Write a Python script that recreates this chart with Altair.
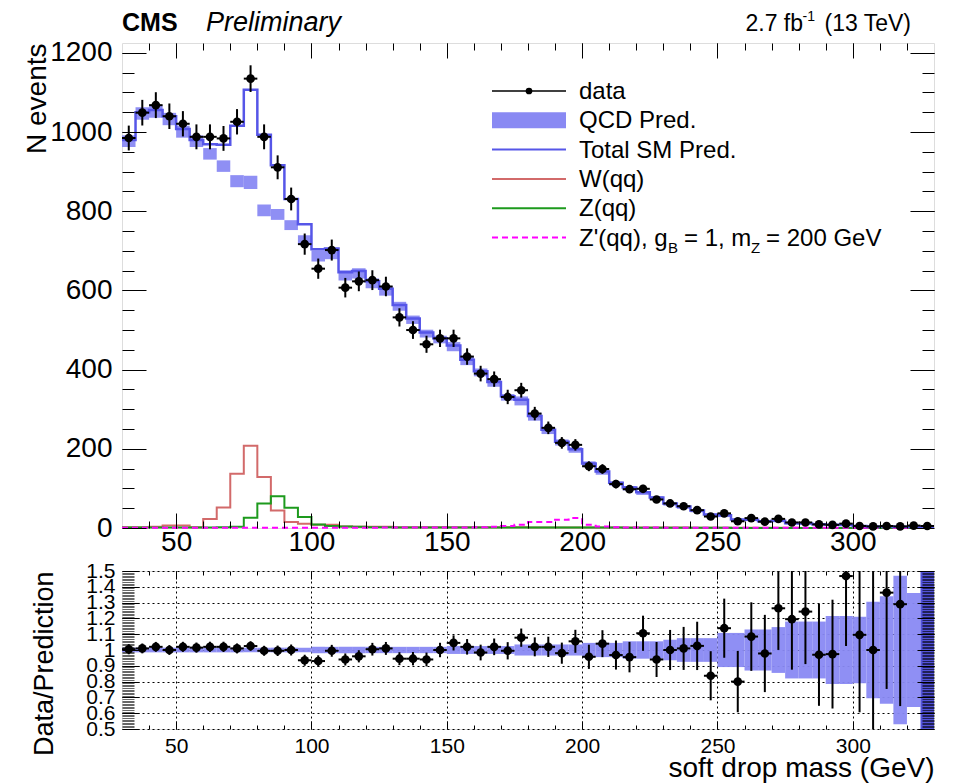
import math
import altair as alt
import pandas as pd

FONT = "Liberation Sans"

# ---------------- data ----------------
bin_low = list(range(30, 330, 5))  # 60 bins of 5 GeV

data_counts = [985, 1049, 1068, 1040, 1021, 988, 988, 984, 1026, 1135,
               988, 911, 831, 717, 655, 702, 607, 623, 626, 610,
               532, 500, 464, 479, 479, 433, 390, 376, 331, 348,
               289, 253, 215, 210, 156, 149, 111, 98, 99, 72,
               62, 55, 45, 29, 37, 17, 25, 16, 23, 14,
               14, 9, 8, 11, 5, 4, 5, 4, 6, 5]

total_sm = [980, 1050, 1056, 1040, 1008, 980, 969, 968, 1016, 1107,
            993, 916, 831, 767, 704, 706, 646, 649, 623, 604,
            563, 529, 494, 479, 461, 425, 396, 369, 333, 324,
            283, 248, 218, 199, 163, 143, 114, 102, 90, 77,
            62, 54, 44, 34, 32, 21.5, 21, 17, 18, 12,
            11.5, 9.5, 8.5, 7.5, 5, 4, 3.7, 3.2, 3, 2.5]

w_qq = [2, 2, 3, 6, 6, 2, 23, 52, 137, 208,
        129, 44, 15, 11, 8, 8, 4, 3, 3, 3,
        2, 2, 2, 2, 2, 2, 2, 2, 2, 2,
        1, 1, 1, 1, 1, 1, 1, 1, 1, 1,
        1, 1, 0.5, 0.5, 0.5, 0.5, 0.5, 0.5, 0.5, 0.5,
        0.3, 0.3, 0.3, 0.3, 0.3, 0.3, 0.3, 0.3, 0.3, 0.3]

z_qq = [1, 1, 1, 1, 1, 1, 1, 2, 3, 26,
        62, 80, 51, 28, 9, 5, 4, 3, 2, 2,
        1, 1, 1, 1, 1, 1, 1, 1, 1, 1,
        1, 1, 1, 1, 1, 1, 1, 0.5, 0.5, 0.5,
        0.5, 0.5, 0.5, 0.5, 0.5, 0.3, 0.3, 0.3, 0.3, 0.3,
        0.3, 0.3, 0.3, 0.3, 0.3, 0.2, 0.2, 0.2, 0.2, 0.2]

zprime_qq = [0.5, 0.5, 0.5, 0.5, 0.5, 0.5, 0.5, 0.5, 0.5, 0.5,
             0.5, 0.5, 0.5, 0.5, 0.5, 0.5, 0.5, 0.5, 0.5, 1,
             1, 1, 1, 1, 1.5, 1.5, 2, 3, 5, 8.5,
             15, 15, 21, 25, 8.5, 4, 2, 1, 1, 1,
             0.5, 0.5, 0.5, 0.5, 0.5, 0.5, 0.5, 0.5, 0.5, 0.5,
             0.5, 0.5, 0.5, 0.5, 0.5, 0.5, 0.5, 0.5, 0.5, 0.5]

qcd_rel_unc = [0.015] * 14 + [0.02] * 10 + [0.025] * 5 + [0.035] * 5 + \
              [0.045] * 3 + [0.055] * 3 + [0.065] + [0.075] * 3 + \
              [0.108, 0.108, 0.13, 0.13, 0.145, 0.18, 0.18, 0.18, 0.215, 0.215,
               0.21, 0.305, 0.34, 0.47, 0.36, 1.2]

ratio_vals = [1.005, 1.01, 1.02, 1.0, 1.02, 1.015, 1.02, 1.02, 1.01, 1.025,
              0.995, 0.995, 1.0, 0.935, 0.93, 0.995, 0.94, 0.96, 1.005, 1.01,
              0.945, 0.945, 0.94, 1.0, 1.045, 1.02, 0.984, 1.02, 0.995, 1.078,
              1.02, 1.02, 0.98, 1.055, 0.957, 1.04, 0.968, 0.955, 1.106, 0.94,
              1.0, 1.01, 1.026, 0.837, 1.138, 0.8, 1.085, 0.978, 1.264, 1.195,
              1.243, 0.97, 0.974, 1.468, 1.096, 1.0, 1.363, 1.29, None, None]

x_major = [50, 100, 150, 200, 250, 300]
x_minor = list(range(40, 330, 10))
y_top_major = [0, 200, 400, 600, 800, 1000, 1200]
y_top_minor = list(range(50, 1225, 50))
ratio_major = [0.5, 0.6, 0.7, 0.8, 0.9, 1.0, 1.1, 1.2, 1.3, 1.4, 1.5]
ratio_minor = [round(0.5 + 0.01 * k, 2) for k in range(1, 100)]

legend_labels = ["data", "QCD Pred.", "Total SM Pred.", "W(qq)", "Z(qq)"]

# ---------------- colours / sizes ----------------
BAND = "#8989f3"
BAND_DARK = "#4a4ad8"
TOTAL = "#5656e8"
W_COL = "#d26a6a"
Z_COL = "#1d9a1d"
ZP_COL = "#ff00ff"

W_TOP, H_TOP = 812, 485
W_R, H_R = 812, 158

# ---------------- tables ----------------
rows = []
for i, lo in enumerate(bin_low):
    tot = total_sm[i]
    qcd = tot - w_qq[i] - z_qq[i]
    u = qcd_rel_unc[i] * tot
    n = data_counts[i]
    r = ratio_vals[i]
    row = dict(lo=lo, hi=lo + 5, c=lo + 2.5, n=n,
               n_lo=n - math.sqrt(n), n_hi=n + math.sqrt(n),
               qcd_lo=qcd - u, qcd_hi=qcd + u,
               b_lo=max(0.5, 1 - qcd_rel_unc[i]), b_hi=min(1.5, 1 + qcd_rel_unc[i]),
               dark=qcd_rel_unc[i] > 0.9)
    if r is not None:
        e = r / math.sqrt(n)
        row.update(r=r, r_lo=max(0.5, r - e), r_hi=min(1.5, r + e))
    else:
        row.update(r=float("nan"), r_lo=float("nan"), r_hi=float("nan"))
    rows.append(row)
df = pd.DataFrame(rows)
df_r = df.dropna(subset=["r"])

steps = []
for name, vals in [("total", total_sm), ("w", w_qq), ("z", z_qq), ("zp", zprime_qq)]:
    for i, lo in enumerate(bin_low):
        steps.append(dict(s=name, x=lo, v=vals[i]))
    steps.append(dict(s=name, x=330, v=vals[-1]))
df_steps = pd.DataFrame(steps)

XS = alt.Scale(domain=[30, 330], nice=False, zero=False)
YT = alt.Scale(domain=[0, 1225], nice=False, zero=False)
YR = alt.Scale(domain=[0.5, 1.5], nice=False, zero=False)


def tick_axis(orient, values, size, width=1.0):
    return alt.Axis(orient=orient, values=values, tickSize=size, offset=-size,
                    labels=False, domain=False, grid=False, ticks=True,
                    tickColor="black", tickWidth=width, title=None, zindex=2)


def axis_layer(y_field, y_scale, x_axis, y_axis):
    return alt.Chart(df).mark_point(opacity=0, size=1).encode(
        x=alt.X("c:Q", scale=XS, axis=x_axis),
        y=alt.Y(y_field, scale=y_scale, axis=y_axis),
    )


one = pd.DataFrame({"a": [0]})


def txt(text, x, y, size, align="left", weight="normal", style="normal", baseline="alphabetic"):
    return alt.Chart(one).mark_text(
        text=text, font=FONT, fontSize=size, align=align, baseline=baseline,
        fontWeight=weight, fontStyle=style, color="black"
    ).encode(x=alt.value(x), y=alt.value(y))


# ---------------- top panel ----------------
band_top = alt.Chart(df).mark_rect(color=BAND, opacity=0.95).encode(
    x=alt.X("lo:Q", scale=XS, axis=None), x2="hi:Q",
    y=alt.Y("qcd_lo:Q", scale=YT, axis=None), y2="qcd_hi:Q")


def step_line(name, color, width, dash=None):
    kw = dict(interpolate="step-after", color=color, strokeWidth=width)
    if dash:
        kw["strokeDash"] = dash
    return alt.Chart(df_steps).transform_filter(alt.datum.s == name).mark_line(**kw).encode(
        x=alt.X("x:Q", scale=XS, axis=None),
        y=alt.Y("v:Q", scale=YT, axis=None))


data_err = alt.Chart(df).mark_rule(color="black", strokeWidth=2).encode(
    x=alt.X("c:Q", scale=XS, axis=None),
    y=alt.Y("n_lo:Q", scale=YT, axis=None), y2="n_hi:Q")
data_xerr = alt.Chart(df).mark_rule(color="black", strokeWidth=2).encode(
    x=alt.X("lo:Q", scale=XS, axis=None), x2="hi:Q",
    y=alt.Y("n:Q", scale=YT, axis=None))
data_pts = alt.Chart(df).mark_circle(color="black", opacity=1, size=75).encode(
    x=alt.X("c:Q", scale=XS, axis=None),
    y=alt.Y("n:Q", scale=YT, axis=None))

x_lab_top = alt.Axis(orient="bottom", values=x_major, tickSize=0, domain=False, grid=False,
                     labelFont=FONT, labelFontSize=28, labelColor="black", labelPadding=0,
                     labelFlush=False, title=None)
y_lab_top = alt.Axis(orient="left", values=y_top_major, tickSize=0, domain=False, grid=False,
                     format="d",
                     labelFont=FONT, labelFontSize=28, labelColor="black", labelPadding=10,
                     labelFlush=False, labelOverlap=False,
                     title="N events", titleFont=FONT, titleFontSize=28, titleFontWeight="normal",
                     titleColor="black", titleAngle=270, titleAlign="right",
                     titleBaseline="alphabetic", titleX=-77, titleY=0)

axes_top = [
    axis_layer("n:Q", YT, x_lab_top, y_lab_top),
    axis_layer("n:Q", YT, tick_axis("bottom", x_major, 15), tick_axis("left", y_top_major, 24)),
    axis_layer("n:Q", YT, tick_axis("bottom", x_minor, 7), tick_axis("left", y_top_minor, 12)),
    axis_layer("n:Q", YT, tick_axis("top", x_major, 15), tick_axis("right", y_top_major, 24)),
    axis_layer("n:Q", YT, tick_axis("top", x_minor, 7), tick_axis("right", y_top_minor, 12)),
]

# header texts (SVG drops leading spaces, so every piece is placed on its own)
header = [
    txt("CMS", 0, -12, 25, weight="bold"),
    txt("Preliminary", 84, -12, 27, style="italic"),
    txt("(13 TeV)", 789, -12, 23, align="right"),
    txt("-1", 693, -22, 14, align="right"),
    txt("2.7 fb", 681, -12, 23, align="right"),
]

# legend
LX0, LX1, LT = 370, 444, 457
ly = [48, 77.3, 106.6, 135.9, 165.2, 194.5]
LFS = 24
legend = []
legend.append(alt.Chart(one).mark_rule(color="black", strokeWidth=1.5).encode(
    x=alt.value(LX0), x2=alt.value(LX1), y=alt.value(ly[0])))
legend.append(alt.Chart(one).mark_circle(color="black", opacity=1, size=45).encode(
    x=alt.value((LX0 + LX1) / 2), y=alt.value(ly[0])))
legend.append(alt.Chart(one).mark_rect(color=BAND).encode(
    x=alt.value(LX0), x2=alt.value(LX1), y=alt.value(ly[1] - 8), y2=alt.value(ly[1] + 8)))
for k, (col, dash) in enumerate([(TOTAL, None), (W_COL, None), (Z_COL, None), (ZP_COL, [6, 4])]):
    kw = dict(color=col, strokeWidth=2)
    if dash:
        kw["strokeDash"] = dash
    legend.append(alt.Chart(one).mark_rule(**kw).encode(
        x=alt.value(LX0), x2=alt.value(LX1), y=alt.value(ly[2 + k])))
for k, lab in enumerate(legend_labels):
    legend.append(txt(lab, LT, ly[k] + 8, LFS))
# Z' label with subscripts
b = ly[5] + 8
legend += [
    txt("Z'(qq), g", LT, b, LFS),
    txt("B", LT + 89, b + 7, 15),
    txt("= 1, m", LT + 105, b, LFS),
    txt("Z", LT + 172, b + 7, 15),
    txt("= 200 GeV", LT + 187, b, LFS),
]

top = alt.layer(
    band_top,
    step_line("w", W_COL, 2),
    step_line("z", Z_COL, 2),
    step_line("zp", ZP_COL, 2, [6, 4]),
    step_line("total", TOTAL, 2.5),
    data_err, data_xerr, data_pts,
    *axes_top, *header, *legend,
).resolve_axis(x="independent", y="independent").properties(width=W_TOP, height=H_TOP)

# ---------------- ratio panel ----------------
band_r = alt.Chart(df).mark_rect(opacity=0.95).encode(
    x=alt.X("lo:Q", scale=XS, axis=None), x2="hi:Q",
    y=alt.Y("b_lo:Q", scale=YR, axis=None), y2="b_hi:Q",
    color=alt.condition(alt.datum.dark, alt.value(BAND_DARK), alt.value(BAND)))
r_err = alt.Chart(df_r).mark_rule(color="black", strokeWidth=2, clip=True).encode(
    x=alt.X("c:Q", scale=XS, axis=None),
    y=alt.Y("r_lo:Q", scale=YR, axis=None), y2="r_hi:Q")
r_xerr = alt.Chart(df_r).mark_rule(color="black", strokeWidth=2, clip=True).encode(
    x=alt.X("lo:Q", scale=XS, axis=None), x2="hi:Q",
    y=alt.Y("r:Q", scale=YR, axis=None))
r_pts = alt.Chart(df_r).mark_circle(color="black", opacity=1, size=75, clip=True).encode(
    x=alt.X("c:Q", scale=XS, axis=None),
    y=alt.Y("r:Q", scale=YR, axis=None))

x_lab_r = alt.Axis(orient="bottom", values=x_major, tickSize=0, domain=False,
                   grid=True, gridDash=[2, 3], gridColor="black", gridWidth=1, gridOpacity=1,
                   labelFont=FONT, labelFontSize=21, labelColor="black", labelPadding=6,
                   labelFlush=False,
                   title="soft drop mass (GeV)", titleFont=FONT, titleFontSize=28,
                   titleFontWeight="normal", titleColor="black", titleAlign="right",
                   titleBaseline="alphabetic", titleX=W_R, titleY=47, titleAngle=0)
y_lab_r = alt.Axis(orient="left", values=ratio_major, tickSize=0, domain=False,
                   grid=True, gridDash=[2, 3], gridColor="black", gridWidth=1, gridOpacity=1,
                   labelFont=FONT, labelFontSize=21, labelColor="black", labelPadding=7,
                   labelFlush=False, labelOverlap=False,
                   labelExpr="abs(datum.value - 1) < 0.001 ? '1' : format(datum.value, '.1f')",
                   title="Data/Prediction", titleFont=FONT, titleFontSize=27,
                   titleFontWeight="normal", titleColor="black", titleAngle=270,
                   titleAlign="right", titleBaseline="alphabetic", titleX=-70, titleY=0)

axes_r = [
    axis_layer("r:Q", YR, x_lab_r, y_lab_r),
    axis_layer("r:Q", YR, tick_axis("bottom", x_major, 8), tick_axis("left", ratio_major, 17)),
    axis_layer("r:Q", YR, tick_axis("bottom", x_minor, 4), tick_axis("left", ratio_minor, 12, 0.6)),
    axis_layer("r:Q", YR, tick_axis("top", x_major, 8), tick_axis("right", ratio_major, 17)),
    axis_layer("r:Q", YR, tick_axis("top", x_minor, 4), tick_axis("right", ratio_minor, 12, 0.6)),
]

ratio = alt.layer(
    band_r, r_err, r_xerr, r_pts, *axes_r
).resolve_axis(x="independent", y="independent").properties(width=W_R, height=H_R)

chart = alt.vconcat(top, ratio, spacing=43, bounds="flush").properties(
    padding={"left": 14, "top": 0, "right": 5, "bottom": 0}
).configure_view(stroke="black", strokeWidth=2).configure(background="white")

chart.save("out.html", embed_options={"renderer": "svg", "actions": False})
